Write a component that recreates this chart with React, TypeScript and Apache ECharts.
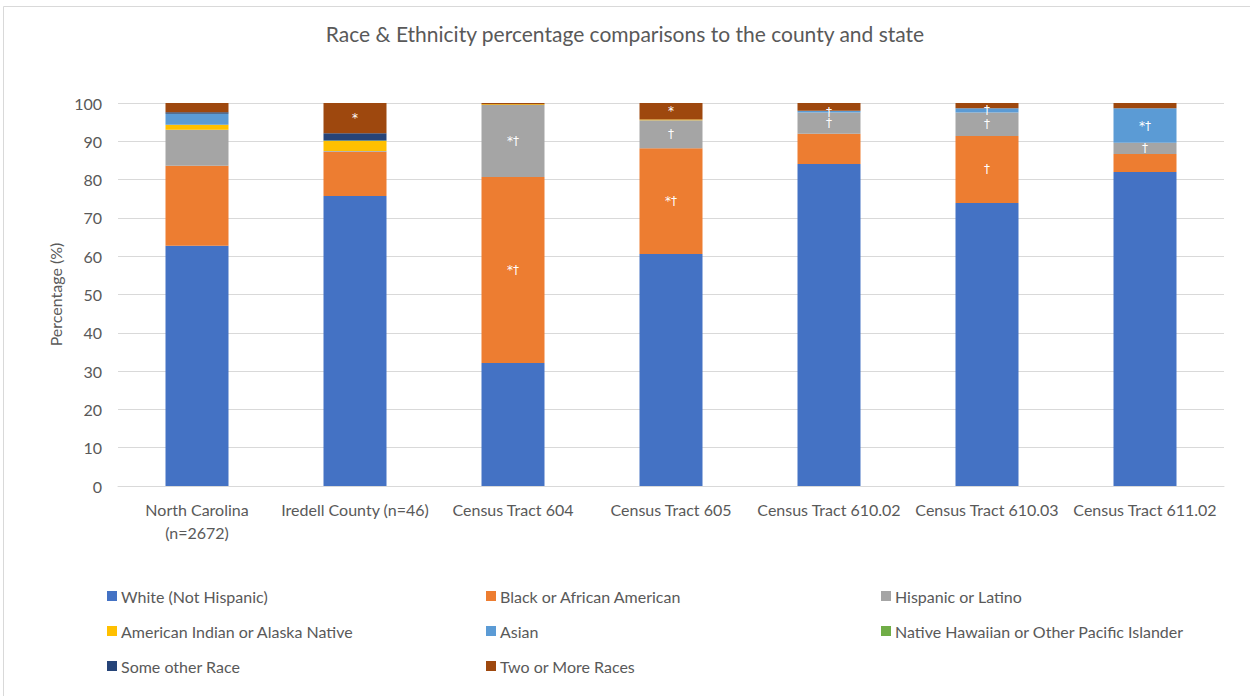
import React, { useEffect, useRef } from "react";
import * as echarts from "echarts";

const categories = [
  "North Carolina\n(n=2672)",
  "Iredell County (n=46)",
  "Census Tract 604",
  "Census Tract 605",
  "Census Tract 610.02",
  "Census Tract 610.03",
  "Census Tract 611.02",
];

const white = [62.7, 75.7, 32.1, 60.6, 84.1, 73.9, 82.0];
const black = [20.9, 11.6, 48.6, 27.6, 7.9, 17.5, 4.7];
const hispanic = [9.4, 0.2, 18.8, 7.3, 5.5, 6.1, 2.9];
const aian = [1.3, 2.6, 0.2, 0.2, 0, 0, 0];
const asian = [2.8, 0, 0, 0, 0.5, 1.1, 9.0];
const nhpi = [0.1, 0.1, 0, 0, 0, 0, 0];
const otherRace = [0.4, 1.9, 0, 0, 0, 0, 0];
const twoPlus = [2.4, 7.9, 0.3, 4.3, 2.0, 1.4, 1.4];

const blackMarks = ["", "", "*†", "*†", "", "†", ""];
const hispanicMarks = ["", "", "*†", "†", "†", "†", "†"];
const asianMarks = ["", "", "", "", "†", "†", "*†"];
const twoPlusMarks = ["", "*", "", "*", "", "", ""];
const noMarks = ["", "", "", "", "", "", ""];

const seriesDefs = [
  { name: "White (Not Hispanic)", values: white, marks: noMarks, color: "#4472C4" },
  { name: "Black or African American", values: black, marks: blackMarks, color: "#ED7D31" },
  { name: "Hispanic or Latino", values: hispanic, marks: hispanicMarks, color: "#A5A5A5" },
  { name: "American Indian or Alaska Native", values: aian, marks: noMarks, color: "#FFC000" },
  { name: "Asian", values: asian, marks: asianMarks, color: "#5B9BD5" },
  { name: "Native Hawaiian or Other Pacific Islander", values: nhpi, marks: noMarks, color: "#70AD47" },
  { name: "Some other Race", values: otherRace, marks: noMarks, color: "#264478" },
  { name: "Two or More Races", values: twoPlus, marks: twoPlusMarks, color: "#9E480E" },
];

const legendCols = [
  ["White (Not Hispanic)", "American Indian or Alaska Native", "Some other Race"],
  ["Black or African American", "Asian", "Two or More Races"],
  ["Hispanic or Latino", "Native Hawaiian or Other Pacific Islander"],
];
const legendLefts = [102, 481, 876];

const FONT = "Lato, 'Open Sans', sans-serif";

export default function App() {
  const ref = useRef<HTMLDivElement>(null);
  useEffect(() => {
    if (!ref.current) return;
    const chart = echarts.init(ref.current, null, { renderer: "svg" });
    chart.setOption({
      animation: false,
      backgroundColor: "#ffffff",
      textStyle: { fontFamily: FONT },
      title: {
        text: "Race & Ethnicity percentage comparisons to the county and state",
        left: "center",
        top: 18,
        textStyle: { fontFamily: FONT, fontSize: 21, fontWeight: "normal", color: "#595959" },
      },
      graphic: [
        {
          type: "rect",
          shape: { x: 3.5, y: 6.5, width: 1270, height: 720 },
          style: { fill: "none", stroke: "#d9d9d9", lineWidth: 1 },
          silent: true,
        },
      ],
      legend: legendCols.map((col, i) => ({
        data: col,
        orient: "vertical",
        left: legendLefts[i],
        top: 583,
        itemWidth: 10,
        itemHeight: 10,
        itemGap: 19,
        icon: "rect",
        textStyle: { fontFamily: FONT, fontSize: 16, color: "#595959", padding: [0, 0, 0, -1] },
      })),
      grid: { left: 118, right: 26, top: 103, bottom: 210, containLabel: false },
      xAxis: {
        type: "category",
        data: categories,
        axisLine: { lineStyle: { color: "#d9d9d9" } },
        axisTick: { show: false },
        axisLabel: {
          interval: 0,
          color: "#595959",
          fontSize: 16,
          fontFamily: FONT,
          margin: 12,
          lineHeight: 23,
        },
      },
      yAxis: {
        type: "value",
        min: 0,
        max: 100,
        interval: 10,
        name: "Percentage (%)",
        nameLocation: "middle",
        nameGap: 47,
        nameTextStyle: { color: "#595959", fontSize: 16, fontFamily: FONT },
        axisLine: { show: false },
        axisTick: { show: false },
        splitLine: { lineStyle: { color: "#d9d9d9" } },
        axisLabel: { color: "#595959", fontSize: 16, fontFamily: FONT, margin: 16 },
      },
      series: seriesDefs.map((s) => ({
        name: s.name,
        type: "bar",
        stack: "total",
        barWidth: 63,
        itemStyle: { color: s.color },
        data: s.values.map((v, i) => ({
          value: v,
          label: {
            show: s.marks[i] !== "",
            position: "inside",
            formatter: s.marks[i],
            color: "#ffffff",
            fontSize: 12,
            lineHeight: 11,
            fontFamily: "'DejaVu Sans', sans-serif",
          },
        })),
      })),
    });
    return () => chart.dispose();
  }, []);
  return (
    <div
      ref={ref}
      style={{ position: "fixed", left: 0, top: 0, width: 1250, height: 696 }}
    />
  );
}
